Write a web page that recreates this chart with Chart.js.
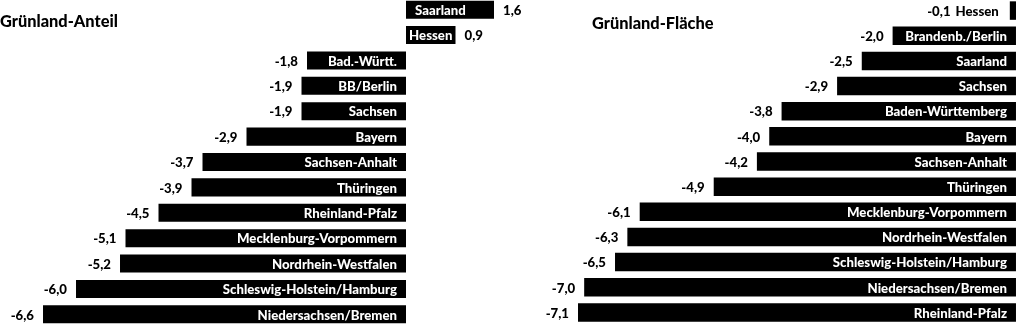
<!DOCTYPE html>
<html>
<head>
<meta charset="utf-8">
<script src="https://cdn.jsdelivr.net/npm/chart.js@4"></script>
<style>
html,body{margin:0;padding:0;background:#fff;width:1024px;height:330px;overflow:hidden;position:relative;}
.title{position:absolute;font:900 16.4px Lato, sans-serif;color:#000;white-space:nowrap;}
canvas{position:absolute;}
</style>
</head>
<body>
<canvas id="c1" width="560" height="330" style="left:0;top:-3px;"></canvas>
<canvas id="c2" width="512" height="327" style="left:512px;top:-2px;"></canvas>
<div class="title" style="left:0;top:11px;">Grünland-Anteil</div>
<div class="title" style="left:592px;top:13px;">Grünland-Fläche</div>
<script>
const anteilLabels = ["Saarland","Hessen","Bad.-Württ.","BB/Berlin","Sachsen","Bayern","Sachsen-Anhalt","Thüringen","Rheinland-Pfalz","Mecklenburg-Vorpommern","Nordrhein-Westfalen","Schleswig-Holstein/Hamburg","Niedersachsen/Bremen"];
const anteilValues = [1.6,0.9,-1.8,-1.9,-1.9,-2.9,-3.7,-3.9,-4.5,-5.1,-5.2,-6.0,-6.6];
const flaecheLabels = ["Hessen","Brandenb./Berlin","Saarland","Sachsen","Baden-Württemberg","Bayern","Sachsen-Anhalt","Thüringen","Mecklenburg-Vorpommern","Nordrhein-Westfalen","Schleswig-Holstein/Hamburg","Niedersachsen/Bremen","Rheinland-Pfalz"];
const flaecheValues = [-0.1,-2.0,-2.5,-2.9,-3.8,-4.0,-4.2,-4.9,-6.1,-6.3,-6.5,-7.0,-7.1];

const FONT = '900 13.2px Lato, sans-serif';
const fmt = v => v.toFixed(1).replace('.', ',');

const labelPlugin = {
  id: 'barLabels',
  afterDatasetsDraw(chart) {
    const ctx = chart.ctx;
    const meta = chart.getDatasetMeta(0);
    const vals = chart.data.datasets[0].data;
    const names = chart.data.labels;
    ctx.save();
    ctx.font = FONT;
    ctx.textBaseline = 'middle';
    meta.data.forEach((el, i) => {
      const p = el.getProps(['x','y','base'], true);
      const v = vals[i];
      const name = names[i];
      const val = fmt(v);
      const barW = Math.abs(p.x - p.base);
      const nw = ctx.measureText(name).width;
      const y = p.y + 1;
      if (v < 0) {
        if (nw + 14 <= barW) {
          ctx.fillStyle = '#fff';
          ctx.textAlign = 'right';
          ctx.fillText(name, p.base - 9, y);
          ctx.fillStyle = '#000';
          ctx.fillText(val, p.x - 9, y);
        } else {
          ctx.fillStyle = '#000';
          ctx.textAlign = 'right';
          ctx.fillText(name, p.x - 11, y);
          ctx.fillText(val, p.x - 11 - nw - 5, y);
        }
      } else {
        const off = Math.min(9, (barW - nw) / 2);
        ctx.fillStyle = '#fff';
        ctx.textAlign = 'left';
        ctx.fillText(name, p.base + off, y);
        ctx.fillStyle = '#000';
        ctx.fillText(val, p.x + 9, y);
      }
    });
    ctx.restore();
  }
};

function makeChart(id, labels, values, min, max, barPct) {
  return new Chart(document.getElementById(id), {
    type: 'bar',
    data: {
      labels: labels,
      datasets: [{
        data: values,
        backgroundColor: '#000',
        borderWidth: 0,
        categoryPercentage: 1,
        barPercentage: barPct
      }]
    },
    options: {
      indexAxis: 'y',
      responsive: false,
      animation: false,
      devicePixelRatio: 1,
      layout: { padding: 0 },
      plugins: { legend: { display: false }, tooltip: { enabled: false }, title: { display: false } },
      scales: {
        x: { display: false, min: min, max: max, grid: { display: false } },
        y: { display: false, grid: { display: false } }
      }
    },
    plugins: [labelPlugin]
  });
}

function draw() {
  makeChart('c1', anteilLabels, anteilValues, -7.382, 2.8, 0.71);
  makeChart('c2', flaecheLabels, flaecheValues, -8.17, 0.13, 0.735);
}
if (document.fonts && document.fonts.load) {
  document.fonts.load(FONT).then(draw, draw);
} else { draw(); }
</script>
</body>
</html>
